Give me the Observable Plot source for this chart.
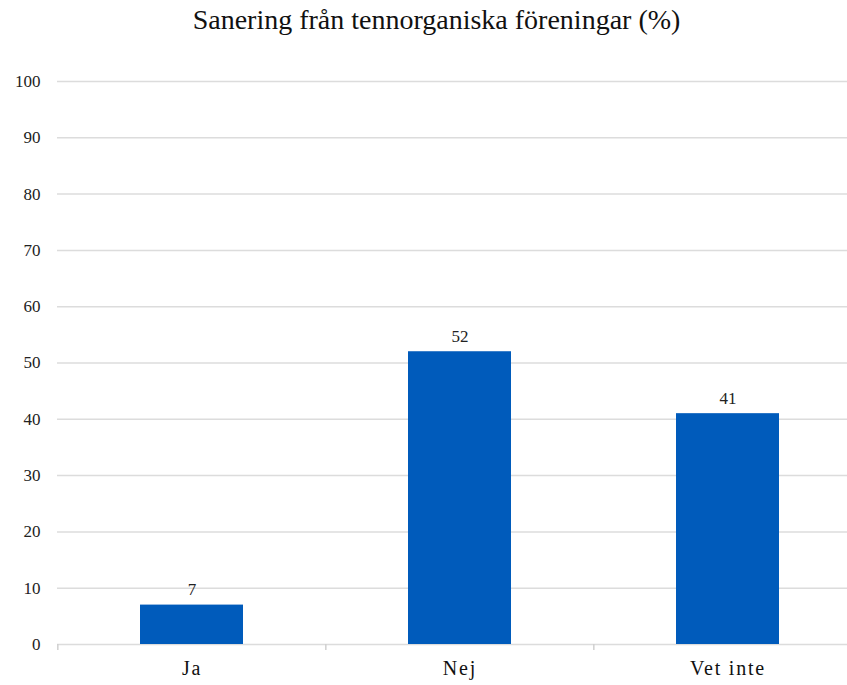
<!DOCTYPE html>
<html><head><meta charset="utf-8">
<script src="https://cdn.jsdelivr.net/npm/d3@7"></script>
<script src="https://cdn.jsdelivr.net/npm/@observablehq/plot@0.6"></script>
<style>
body{margin:0;background:#fff;}
#wrap{position:relative;width:847px;height:685px;}
#title{position:absolute;left:0;top:4px;width:847px;box-sizing:border-box;padding-left:26px;text-align:center;font-family:"Liberation Serif","Times New Roman",serif;font-size:28px;color:#111;}
g[aria-label="x-axis tick label"] text{letter-spacing:1.8px;}
</style></head>
<body><div id="wrap"><div id="title">Sanering från tennorganiska föreningar (%)</div><div id="chart"></div></div>
<script>
const categories = ["Ja", "Nej", "Vet inte"];
const values = [7, 52, 41];
const yTicks = [0, 10, 20, 30, 40, 50, 60, 70, 80, 90, 100];
const data = categories.map((c, i) => ({cat: c, v: values[i]}));
const xRange = [57, 862];
const step = (xRange[1] - xRange[0]) / categories.length;
const font = '"Liberation Serif","Times New Roman",serif';
const chart = Plot.plot({
  width: 847, height: 685,
  marginTop: 81, marginBottom: 41, marginLeft: 57, marginRight: 0,
  style: {fontFamily: font, background: "#fff"},
  x: {domain: categories, range: xRange, paddingInner: 0.615, paddingOuter: 0.3075, label: null},
  y: {domain: [0, 100], label: null},
  marks: [
    Plot.gridY(yTicks, {stroke: "#dcdcdc", strokeOpacity: 1, strokeWidth: 1.5}),
    Plot.ruleX(categories, {x: d => d, dx: -step / 2, y1: 0, y2: 0, stroke: "#d0d0d0", strokeWidth: 1.5, insetBottom: -6}),
    Plot.barY(data, {x: "cat", y: "v", fill: "#005bbb"}),
    Plot.text(data, {x: "cat", y: "v", text: d => String(d.v), dy: -10, lineAnchor: "bottom", fontSize: 17, fill: "#222"}),
    Plot.axisY(yTicks, {tickSize: 0, tickPadding: 17, fontSize: 17, fill: "#222", label: null}),
    Plot.axisX({tickSize: 0, tickPadding: 16, fontSize: 20, fill: "#111", label: null})
  ]
});
document.getElementById("chart").appendChild(chart);
</script></body></html>
